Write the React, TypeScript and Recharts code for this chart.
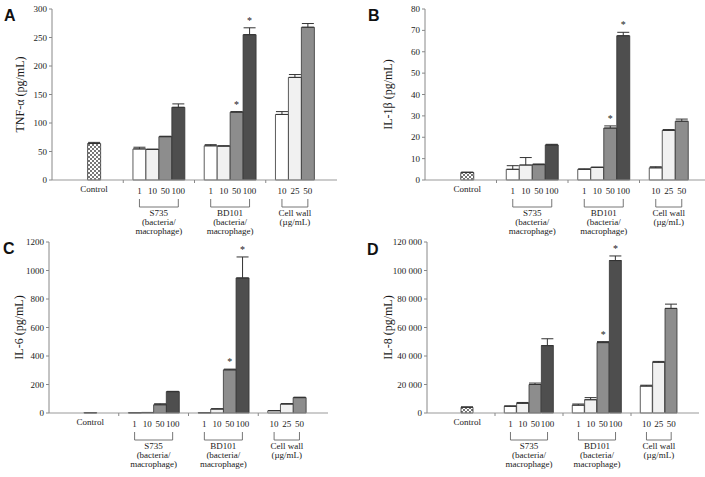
import { ComposedChart, Bar, Line, XAxis, YAxis, ErrorBar, Cell } from 'recharts';

// x axis groups and the doses inside each one
const groupNames = ['Control', 'S735', 'BD101', 'Cell wall'];
const groupNotes = [[], ['(bacteria/', 'macrophage)'], ['(bacteria/', 'macrophage)'], ['(µg/mL)']];
const doseLabels = [[''], ['1', '10', '50', '100'], ['1', '10', '50', '100'], ['10', '25', '50']];

// bar order: control, S735 x4, BD101 x4, cell wall x3
const significant = [false, false, false, false, false, false, false, true, true, false, false, false];

const tnfValues = [64, 54.5, 53.5, 76, 127.5, 60, 59.5, 119, 255, 115, 180, 268];
const tnfErrors = [2, 3, 0.8, 0.8, 6, 2, 0.5, 1, 12, 5, 5, 6.5];
const tnfTicks = [0, 50, 100, 150, 200, 250, 300];

const il1Values = [3.5, 5, 7, 7.2, 16.4, 5, 5.9, 24.3, 67.5, 5.7, 23.2, 27.5];
const il1Errors = [0.2, 1.7, 3.5, 0.3, 0.3, 0.2, 0.1, 1, 1.6, 0.5, 0.4, 1];
const il1Ticks = [0, 10, 20, 30, 40, 50, 60, 70, 80];

const il6Values = [2, 2, 3, 58, 150, 2, 28, 303, 948, 16, 63, 108];
const il6Errors = [1, 1, 1, 7, 2, 1, 2, 5, 147, 1, 3, 3];
const il6Ticks = [0, 200, 400, 600, 800, 1000, 1200];

const il8Values = [4000, 4700, 6800, 20000, 47300, 5500, 9300, 49400, 107000, 18900, 35600, 73400];
const il8Errors = [300, 300, 600, 1000, 4800, 800, 1500, 700, 3200, 600, 600, 3000];
const il8Ticks = [0, 20000, 40000, 60000, 80000, 100000, 120000];

// layout of the x axis, in bar half-widths
const X_DOMAIN = 44;
const GROUP_FIRST = [6.5, 13.5, 24.5, 35.5];
const SEPARATORS = [11, 22, 33];
const BAR_STEP = 2;
const SERIF = '"Liberation Serif", "Times New Roman", serif';
const SHADES = ['#ffffff', '#f1f1f1', '#8d8d8d', '#4e4e4e'];

const slots = doseLabels.flatMap((doses, g) =>
  doses.map((dose, d) => ({ g, d, dose, pos: GROUP_FIRST[g] + d * BAR_STEP }))
);
const xTicks = [...slots.map(s => s.pos), ...SEPARATORS].sort((a, b) => a - b);

const spaced = (v: number) => String(v).replace(/\B(?=(\d{3})+(?!\d))/g, '\u00a0');

const panels = [
  { key: 'a', letter: 'A', title: 'TNF-α (pg/mL)', values: tnfValues, errors: tnfErrors, ticks: tnfTicks,
    left: 0, top: 0, width: 345, yWidth: 52, right: 8, titleX: 20, letterX: 4, letterY: 21 },
  { key: 'b', letter: 'B', title: 'IL-1β (pg/mL)', values: il1Values, errors: il1Errors, ticks: il1Ticks,
    left: 373, top: 0, width: 338, yWidth: 52, right: 0, titleX: 388, letterX: 368, letterY: 21 },
  { key: 'c', letter: 'C', title: 'IL-6 (pg/mL)', values: il6Values, errors: il6Errors, ticks: il6Ticks,
    left: 0, top: 233, width: 338, yWidth: 49, right: 10, titleX: 19, letterX: 3, letterY: 254 },
  { key: 'd', letter: 'D', title: 'IL-8 (pg/mL)', values: il8Values, errors: il8Errors, ticks: il8Ticks,
    left: 375, top: 233, width: 330, yWidth: 52, right: 6, titleX: 388, letterX: 367, letterY: 255, spaced: true },
];

const font = { fontSize: 9, fill: '#222', style: { fontFamily: SERIF } };

function GroupTick(props: any) {
  const { x, y, payload, unit } = props;
  const v = payload.value;
  if (SEPARATORS.includes(v)) return <line x1={x} x2={x} y1={y} y2={y + 3} stroke="#888" />;
  const slot = slots.find(s => s.pos === v);
  if (!slot) return <g />;
  if (slot.g === 0) {
    return <text x={x} y={y + 12} textAnchor="middle" {...font}>{groupNames[0]}</text>;
  }
  const span = (doseLabels[slot.g].length - 1) * BAR_STEP * unit;
  return (
    <g>
      <text x={x} y={y + 14} textAnchor="middle" {...font}>{slot.dose}</text>
      {slot.d === 0 && (
        <g>
          <path d={`M${x},${y + 19}V${y + 27}H${x + span}V${y + 19}`} fill="none" stroke="#666" strokeWidth={0.9} />
          {[groupNames[slot.g], ...groupNotes[slot.g]].map((t, i) => (
            <text key={i} x={x + span / 2} y={y + 36 + i * 8.8} textAnchor="middle" {...font}>{t}</text>
          ))}
        </g>
      )}
    </g>
  );
}

function ValueTick(props: any) {
  const { x, y, payload, spacedLabels } = props;
  const label = spacedLabels ? spaced(payload.value) : String(payload.value);
  return <text x={x} y={y + 3} textAnchor="end" {...font}>{label}</text>;
}

const renderStar = (p: any) => {
  if (p.payload == null || p.payload.star == null || p.cy == null) return <g key={`s${p.index}`} />;
  return (
    <text key={`s${p.index}`} x={p.cx} y={p.cy - 4} textAnchor="middle" fontSize={10} fill="#222" style={{ fontFamily: SERIF }}>*</text>
  );
};

function Panel({ spec }: { spec: any }) {
  const unit = (spec.width - spec.yWidth - spec.right) / X_DOMAIN;
  const rows = slots.map((s, i) => ({
    pos: s.pos,
    value: spec.values[i],
    err: [0, spec.errors[i]],
    star: significant[i] ? spec.values[i] + spec.errors[i] : null,
  }));
  const patternId = `checker-${spec.key}`;
  return (
    <div style={{ position: 'absolute', left: spec.left, top: spec.top }}>
      <ComposedChart
        width={spec.width}
        height={238}
        data={rows}
        margin={{ top: 9, right: spec.right, bottom: 0, left: 0 }}
        barCategoryGap={0}
        barGap={0}
      >
        <defs>
          <pattern id={patternId} width={4} height={4} patternUnits="userSpaceOnUse">
            <rect width={4} height={4} fill="#fff" />
            <rect width={2} height={2} fill="#777" />
            <rect x={2} y={2} width={2} height={2} fill="#777" />
          </pattern>
        </defs>
        <XAxis
          dataKey="pos"
          type="number"
          domain={[0, X_DOMAIN]}
          ticks={xTicks}
          interval={0}
          height={58}
          tickSize={0}
          tickMargin={0}
          tickLine={false}
          axisLine={{ stroke: '#999' }}
          tick={(p: any) => <GroupTick {...p} unit={unit} />}
        />
        <YAxis
          type="number"
          domain={[0, spec.ticks[spec.ticks.length - 1]]}
          ticks={spec.ticks}
          interval={0}
          width={spec.yWidth}
          tickSize={3}
          tickMargin={2}
          axisLine={{ stroke: '#888' }}
          tickLine={{ stroke: '#888' }}
          tick={(p: any) => <ValueTick {...p} spacedLabels={spec.spaced} />}
        />
        <Bar dataKey="value" isAnimationActive={false} stroke="#333" strokeWidth={0.8}>
          {slots.map((s, i) => (
            <Cell key={i} fill={s.g === 0 ? `url(#${patternId})` : SHADES[s.d]} />
          ))}
          <ErrorBar dataKey="err" width={6} stroke="#333" strokeWidth={1} />
        </Bar>
        <Line dataKey="star" stroke="none" isAnimationActive={false} dot={renderStar} activeDot={false} legendType="none" />
      </ComposedChart>
    </div>
  );
}

export default function App() {
  return (
    <div style={{ position: 'absolute', left: 0, top: 0, width: 705, height: 477, overflow: 'hidden', background: '#fff' }}>
      {panels.map(p => <Panel key={p.key} spec={p} />)}
      <svg width={705} height={477} style={{ position: 'absolute', left: 0, top: 0, pointerEvents: 'none' }}>
        {panels.map(p => {
          const cy = p.top + 9 + 171 / 2;
          return (
            <g key={p.key}>
              <text x={p.letterX} y={p.letterY} fontWeight="bold" fontSize={16} fill="#111"
                style={{ fontFamily: '"Liberation Sans", Arial, sans-serif' }}>{p.letter}</text>
              <text
                x={p.titleX + 4}
                y={cy}
                transform={`rotate(-90 ${p.titleX + 4} ${cy})`}
                textAnchor="middle"
                fontSize={12}
                fill="#1a1a1a"
                style={{ fontFamily: SERIF }}
              >
                {p.title}
              </text>
            </g>
          );
        })}
      </svg>
    </div>
  );
}
